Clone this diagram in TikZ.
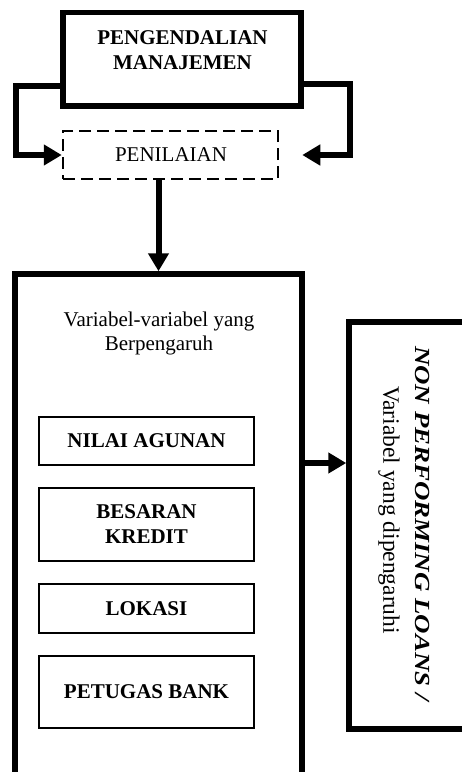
\documentclass[tikz,border=0pt]{standalone}
\usepackage{fontspec}
\setmainfont{Liberation Serif}
\usetikzlibrary{arrows.meta,calc}
\begin{document}
\begin{tikzpicture}[x=1pt,y=-1pt,
  heavybox/.style={draw, rectangle, line width=5.5pt, inner sep=0pt},
  lightbox/.style={draw, rectangle, line width=2.5pt, inner sep=0pt, minimum width=215pt,
    font=\fontsize{21}{25}\selectfont\bfseries, align=center},
  dashbox/.style={draw, rectangle, line width=2.5pt, dash pattern=on 12pt off 6pt, inner sep=0pt},
  conn/.style={line width=6pt, -{Triangle[length=18pt,width=20pt]}},
  txt/.style={inner sep=0pt, align=center}]
\useasboundingbox (0,0) rectangle (462,772);
\clip (0,0) rectangle (462,772);

% boxes
\node[heavybox, minimum width=238pt, minimum height=93.5pt] (top) at (182,59.25) {};
\node[dashbox, minimum width=215pt, minimum height=48pt] (pen) at (170.5,155) {};
\node[heavybox, minimum width=287pt, minimum height=546pt] (big) at (158.5,547) {};
\node[heavybox, minimum width=151pt, minimum height=407pt] (npl) at (424.5,525.5) {};

\node[lightbox, minimum height=48pt] (nilai) at (146.5,441) {NILAI AGUNAN};
\node[lightbox, minimum height=73pt] (besaran) at (146.5,524.5) {BESARAN\\KREDIT};
\node[lightbox, minimum height=49pt] (lokasi) at (146.5,608.5) {LOKASI};
\node[lightbox, minimum height=72pt] (petugas) at (146.5,692) {PETUGAS BANK};

% texts
\node[txt, font=\fontsize{21}{25}\selectfont\bfseries] (toptxt) at (182.5,50) {PENGENDALIAN\\MANAJEMEN};
\node[txt, font=\fontsize{21}{25}\selectfont] (pentxt) at (171,155) {PENILAIAN};
\node[txt, font=\fontsize{21}{24}\selectfont] (vartxt) at (159,333) {Variabel-variabel yang\\Berpengaruh};
\node[txt, rotate=-90, font=\fontsize{21.5}{25}\selectfont\bfseries\itshape] (npla) at (423,523.5)
  {\scalebox{1.25}[1]{NON PERFORMING LOANS /}};
\node[txt, rotate=-90, font=\fontsize{23.5}{26}\selectfont] (nplb) at (389,510) {Variabel yang dipengaruhi};

% connectors
\coordinate (la) at ([yshift=-27pt]top.west);
\coordinate (ra) at ([yshift=-25pt]top.east);
\coordinate (pe) at ([xshift=23pt]pen.east);
\draw[conn] (la) -- ++(-44,0) |- (pen.west);
\draw[conn] (ra) -- ++(46,0) |- (pe);
\draw[conn] (pen.south -| big.north) -- (big.north);
\coordinate (ma) at ([yshift=84pt]big.east);
\draw[conn] (ma) -- (ma -| npl.west);
\end{tikzpicture}
\end{document}
